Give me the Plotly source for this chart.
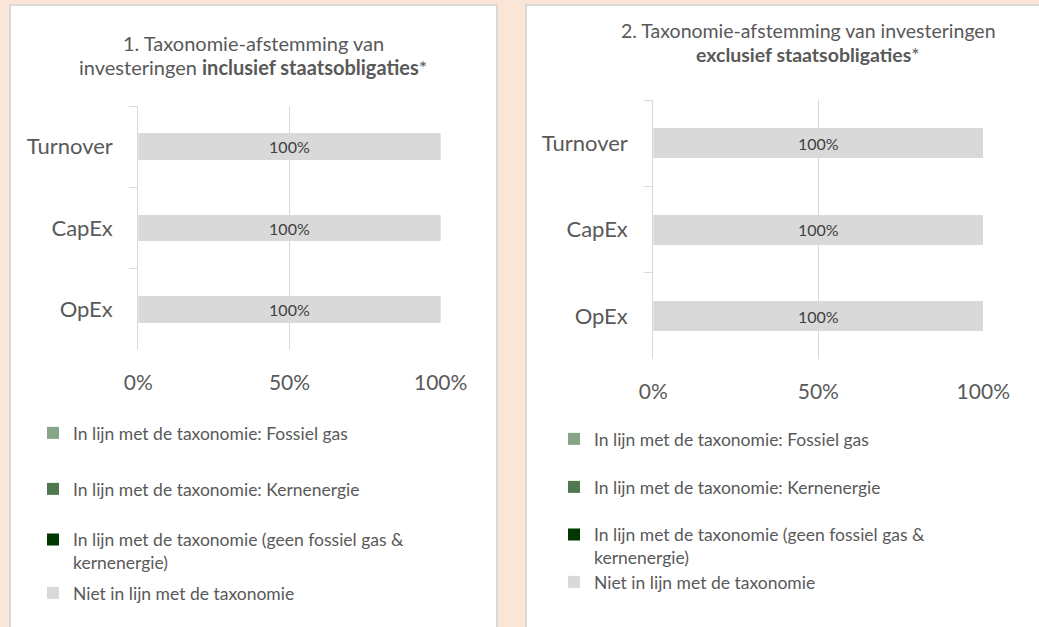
import plotly.graph_objects as go

# ---------------- data ----------------
categories = ["Turnover", "CapEx", "OpEx"]
series_names = [
    "In lijn met de taxonomie: Fossiel gas",
    "In lijn met de taxonomie: Kernenergie",
    "In lijn met de taxonomie (geen fossiel gas &<br>kernenergie)",
    "Niet in lijn met de taxonomie",
]
incl_fossiel = [0, 0, 0]
incl_kern = [0, 0, 0]
incl_geen = [0, 0, 0]
incl_niet = [100, 100, 100]
excl_fossiel = [0, 0, 0]
excl_kern = [0, 0, 0]
excl_geen = [0, 0, 0]
excl_niet = [100, 100, 100]
x_tickvals = [0, 50, 100]
x_ticktext = ["0%", "50%", "100%"]

colors = ["#86a586", "#4e784e", "#013801", "#d9d9d9"]

W, H = 1039, 627
FONT = "Lato"
TXT = "#595959"
BG = "#fbe5d6"


def px(x):
    return x / W


def py(y):
    return 1 - y / H


fig = go.Figure()

panels = [
    dict(vals=[incl_fossiel, incl_kern, incl_geen, incl_niet], xa="x", ya="y",
         legends=["legend", "legend2", "legend3", "legend4"], width=0.33),
    dict(vals=[excl_fossiel, excl_kern, excl_geen, excl_niet], xa="x2", ya="y2",
         legends=["legend5", "legend6", "legend7", "legend8"], width=0.345),
]

for p in panels:
    for i, (name, vals) in enumerate(zip(series_names, p["vals"])):
        show_text = any(v > 0 for v in vals) and i == 3
        fig.add_trace(go.Bar(
            y=categories, x=vals, name=name, orientation="h",
            marker=dict(color=colors[i], line=dict(width=0)),
            width=p["width"],
            text=[f"{v:.0f}%" for v in vals] if show_text else None,
            textposition="inside" if show_text else None,
            insidetextanchor="middle",
            textfont=dict(family=FONT, size=16, color="#404040"),
            xaxis=p["xa"], yaxis=p["ya"], legend=p["legends"][i],
            hoverinfo="skip",
        ))

axis_common_x = dict(
    range=[0, 100], tickvals=x_tickvals, ticktext=x_ticktext,
    showgrid=True, gridcolor="#d9d9d9", gridwidth=1.2, zeroline=False,
    showline=False, ticks="", tickfont=dict(family=FONT, size=21, color=TXT),
    ticklabelstandoff=18, fixedrange=True,
)
axis_common_y = dict(
    autorange="reversed", type="category", showgrid=False, zeroline=False,
    showline=True, linecolor="#d9d9d9", linewidth=1.2,
    ticks="outside", tickson="boundaries", ticklen=8, tickcolor="#d9d9d9", tickwidth=1.2,
    tickfont=dict(family=FONT, size=22, color=TXT), ticklabelstandoff=20,
    fixedrange=True,
)

fig.update_layout(
    width=W, height=H,
    margin=dict(l=0, r=0, t=0, b=0, autoexpand=False),
    paper_bgcolor=BG, plot_bgcolor="rgba(0,0,0,0)",
    barmode="stack",
    font=dict(family=FONT, color=TXT),
    xaxis=dict(domain=[px(138.3), px(440.7)], anchor="y", **axis_common_x),
    yaxis=dict(domain=[py(350), py(106)], anchor="x", **axis_common_y),
    xaxis2=dict(domain=[px(653.3), px(983.3)], anchor="y2", **axis_common_x),
    yaxis2=dict(domain=[py(359.3), py(100)], anchor="x2", **axis_common_y),
    showlegend=True,
)

# panels (white cards)
fig.add_shape(type="rect", xref="paper", yref="paper", x0=px(10), x1=px(497), y0=py(640), y1=py(5),
              fillcolor="white", line=dict(color="#d9d9d9", width=2), layer="below")
fig.add_shape(type="rect", xref="paper", yref="paper", x0=px(526), x1=px(1050), y0=py(640), y1=py(5),
              fillcolor="white", line=dict(color="#d9d9d9", width=2), layer="below")

# titles
titles = [
    (253, 43, 20, "1. Taxonomie-afstemming van"),
    (253, 67, 20, "investeringen <b>inclusief staatsobligaties</b>*"),
    (808, 30.5, 19.5, "2. Taxonomie-afstemming van investeringen"),
    (808, 54, 19.5, "<b>exclusief staatsobligaties</b>*"),
]
for x, y, s, t in titles:
    fig.add_annotation(x=px(x), y=py(y), xref="paper", yref="paper", text=t, showarrow=False,
                       xanchor="center", yanchor="middle",
                       font=dict(family=FONT, size=s, color=TXT))

# legends
leg_rows = {
    "legend": (74, 433), "legend2": (74, 489), "legend3": (74, 540), "legend4": (74, 593),
    "legend5": (595, 439), "legend6": (595, 487), "legend7": (595, 535), "legend8": (595, 582),
}
multi = {"legend3", "legend7"}
leg_layout = {}
for key, (tx, ty) in leg_rows.items():
    yy = ty + (11 if key in multi else 0)
    leg_layout[key] = dict(
        x=px(tx - 41), y=py(yy), xanchor="left", yanchor="middle",
        bgcolor="rgba(0,0,0,0)", borderwidth=0, itemwidth=30,
        font=dict(family=FONT, size=17.5, color=TXT), valign="top",
        itemclick=False, itemdoubleclick=False,
    )
fig.update_layout(**leg_layout)

fig.write_html(
    "out.html",
    config={"displayModeBar": False},
    post_script="document.body.style.margin='0';document.body.style.background='" + BG + "';",
)
